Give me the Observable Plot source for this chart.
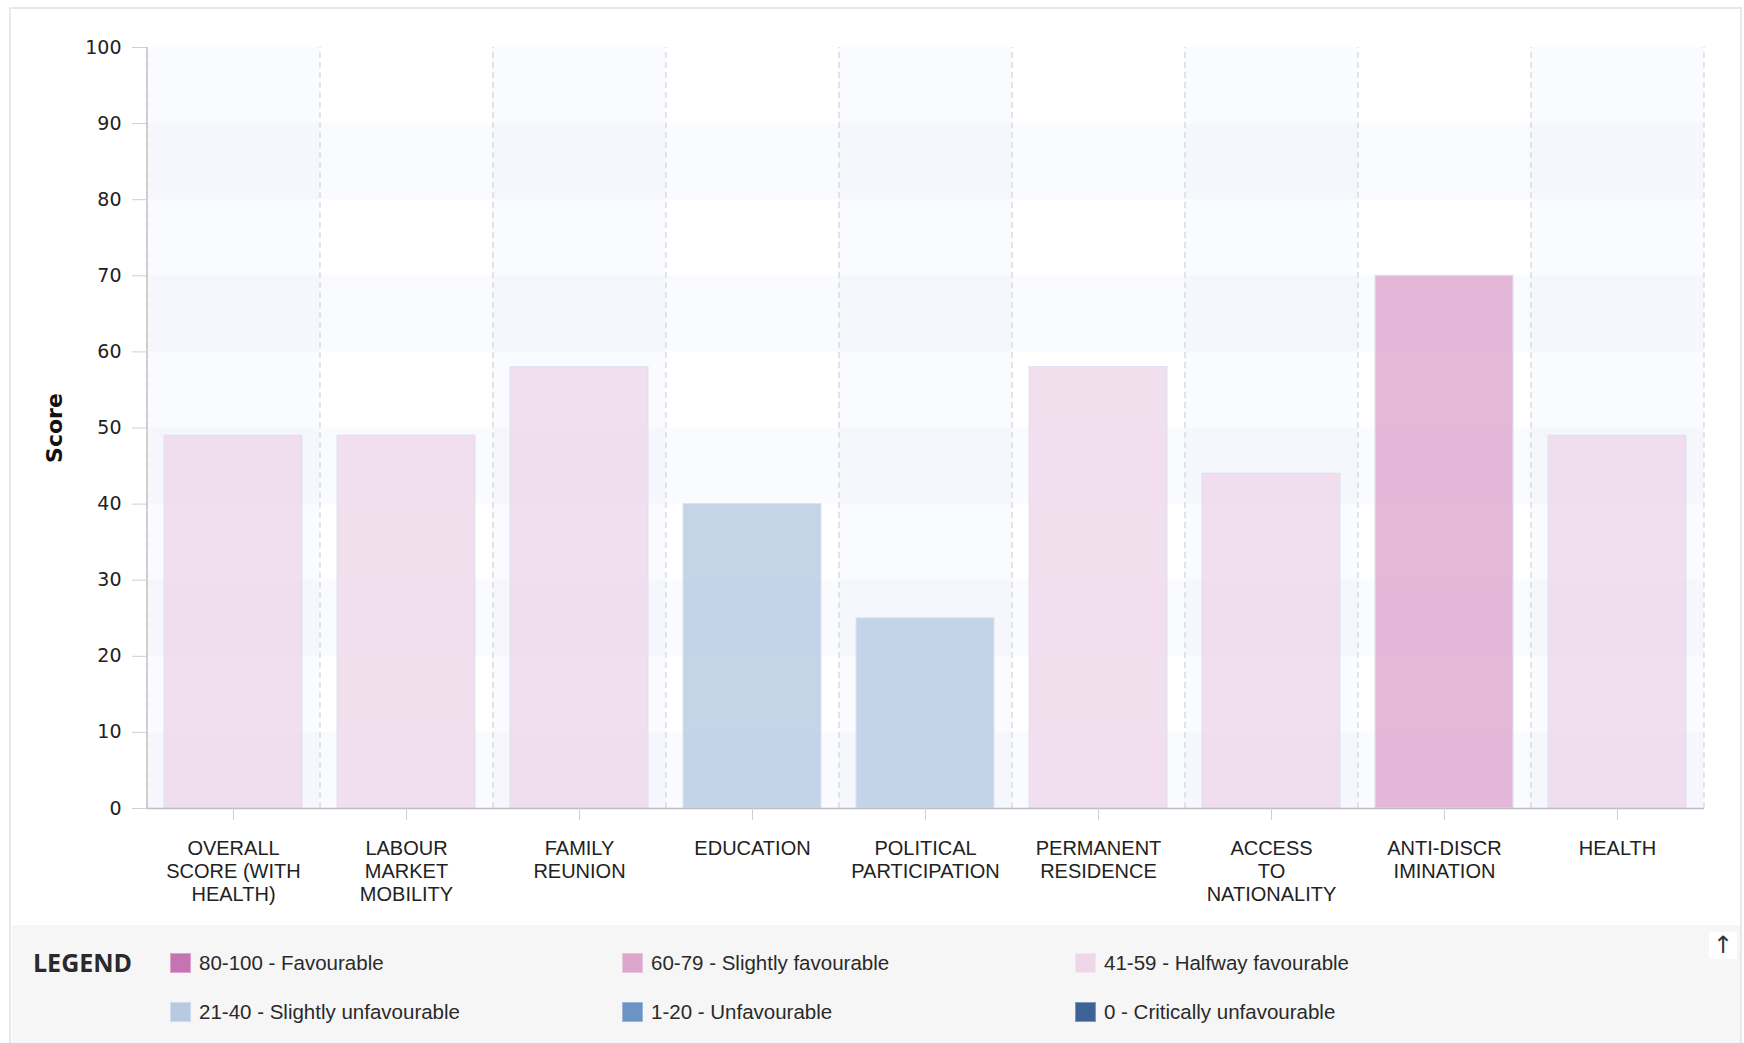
<!DOCTYPE html>
<html>
<head>
<meta charset="utf-8">
<script src="https://cdn.jsdelivr.net/npm/d3@7"></script>
<script src="https://cdn.jsdelivr.net/npm/@observablehq/plot@0.6"></script>
<style>
  html, body { margin: 0; padding: 0; background: #fff; }
  #page { position: relative; width: 1744px; height: 1043px; overflow: hidden; font-family: "Liberation Sans", Arial, sans-serif; }
  #chart svg { display: block; }
  #frame { position: absolute; left: 9px; top: 7px; width: 1733px; height: 1040px; box-sizing: border-box;
           border: 2px solid #e8e8e8; border-bottom: 0; pointer-events: none; }
  #legend { position: absolute; left: 12px; top: 925px; width: 1729px; height: 118px; background: #f6f6f6; }
  .title { position: absolute; left: 33px; top: 950px; font-family: "Open Sans", sans-serif; font-weight: 700;
           font-size: 25px; line-height: 25px; color: #2a2a2a; }
  .item { position: absolute; height: 20px; font-size: 20.5px; line-height: 20px; color: #2a2a2a; white-space: nowrap; }
  .item .sw { position: absolute; left: 0; top: 0; width: 21px; height: 20px; box-sizing: border-box;
              box-shadow: inset 0 0 0 1px rgba(255,255,255,0.35); }
  .item .lb { position: absolute; left: 29px; top: 0; }
  #up { position: absolute; left: 1709px; top: 932px; width: 28px; height: 27px; background: #fff;
        font-family: "DejaVu Sans", sans-serif; font-size: 24px; line-height: 27px; text-align: center; color: #333; }
</style>
</head>
<body>
<div id="page">
  <div id="chart"></div>
  <div id="legend"></div>
  <div id="up">&#8593;</div>
  <div id="frame"></div>
</div>
<script>
// ---- data ----
const categories = [
  "Overall score (with health)", "Labour market mobility", "Family reunion", "Education",
  "Political participation", "Permanent residence", "Access to nationality", "Anti-discrimination", "Health"
];
const scores = [49, 49, 58, 40, 25, 58, 44, 70, 49];
const tickLabels = [
  "OVERALL\nSCORE (WITH\nHEALTH)", "LABOUR\nMARKET\nMOBILITY", "FAMILY\nREUNION", "EDUCATION",
  "POLITICAL\nPARTICIPATION", "PERMANENT\nRESIDENCE", "ACCESS\nTO\nNATIONALITY", "ANTI-DISCR\nIMINATION", "HEALTH"
];
const yTicks = [0, 10, 20, 30, 40, 50, 60, 70, 80, 90, 100];
const legendLabels = [
  "80-100 - Favourable", "60-79 - Slightly favourable", "41-59 - Halfway favourable",
  "21-40 - Slightly unfavourable", "1-20 - Unfavourable", "0 - Critically unfavourable"
];
const legendColors = ["#c673b3", "#dda6cd", "#efd7ea", "#b7cae2", "#6c93c6", "#3d6396"];
const thresholds = [1, 21, 41, 60, 80];
const yLabel = "Score";

// ---- layout ----
const W = 1744, H = 925, mL = 147, mR = 40, mT = 47, mB = 117;
const step = (W - mL - mR) / categories.length;

const rows = categories.map((c, i) => ({category: c, score: scores[i]}));
const tintCols = categories.filter((_, i) => i % 2 === 0);
const tintRows = yTicks.filter((v, i) => i % 2 === 0 && v < 100);
const tint = {fill: "#e6e9f8", fillOpacity: 0.18};

const chart = Plot.plot({
  width: W, height: H,
  marginLeft: mL, marginRight: mR, marginTop: mT, marginBottom: mB,
  style: {fontFamily: "'Liberation Sans', Arial, sans-serif", fontSize: "20px", color: "#222", background: "transparent"},
  x: {type: "band", domain: categories, paddingInner: 0.2, paddingOuter: 0.1, axis: null},
  y: {domain: [0, 100], axis: null},
  color: {type: "threshold", domain: thresholds, range: legendColors.slice().reverse()},
  marks: [
    Plot.rect(tintRows, {y1: d => d, y2: d => d + 10, ...tint}),
    Plot.barY(tintCols, {x: d => d, y1: 0, y2: 100, insetLeft: -step * 0.1, insetRight: -step * 0.1, ...tint}),
    Plot.ruleX(categories, {x: d => d, y1: 0, y2: 100, dx: -step / 2, stroke: "#d4d4d4", strokeDasharray: "6,4", strokeWidth: 1.2}),
    Plot.ruleX(categories.slice(-1), {x: d => d, y1: 0, y2: 100, dx: step / 2, stroke: "#d4d4d4", strokeDasharray: "6,4", strokeWidth: 1.2}),
    Plot.barY(rows, {x: "category", y: "score", fill: "score", fillOpacity: 0.8, stroke: "#dde1f2", strokeWidth: 1}),
    Plot.ruleX(categories.slice(0, 1), {x: d => d, y1: 0, y2: 100, dx: -step / 2, stroke: "#c4c4c4", strokeWidth: 1.5}),
    Plot.ruleY([0], {stroke: "#bdbdc8", strokeWidth: 1.5}),
    Plot.axisY({ticks: yTicks, tickSize: 15, tickPadding: 11, stroke: "#cfcfcf", fill: "#222", label: null,
                fontSize: 19, fontFamily: "'DejaVu Sans', sans-serif"}),
    Plot.axisX({tickSize: 12, tickPadding: 18, stroke: "#cfcfcf", fill: "#222", label: null, fontSize: 20,
                lineHeight: 1.15, tickFormat: d => tickLabels[categories.indexOf(d)]}),
    Plot.text([yLabel], {text: d => d, frameAnchor: "left", dx: -93, rotate: -90, textAnchor: "middle",
                         fontWeight: "bold", fontSize: 22, fontFamily: "'DejaVu Sans', sans-serif", fill: "#111"})
  ]
});
document.getElementById("chart").appendChild(chart);

// ---- legend ----
const page = document.getElementById("page");
const upEl = document.getElementById("up");
const title = document.createElement("div");
title.className = "title";
title.textContent = "LEGEND";
page.insertBefore(title, upEl);

const colX = [170, 622, 1075];
const rowY = [953, 1002];
legendLabels.forEach((lab, i) => {
  const it = document.createElement("div");
  it.className = "item";
  it.style.left = colX[i % 3] + "px";
  it.style.top = rowY[Math.floor(i / 3)] + "px";
  const sw = document.createElement("span");
  sw.className = "sw";
  sw.style.background = legendColors[i];
  const lb = document.createElement("span");
  lb.className = "lb";
  lb.textContent = lab;
  it.appendChild(sw);
  it.appendChild(lb);
  page.insertBefore(it, upEl);
});
</script>
</body>
</html>
